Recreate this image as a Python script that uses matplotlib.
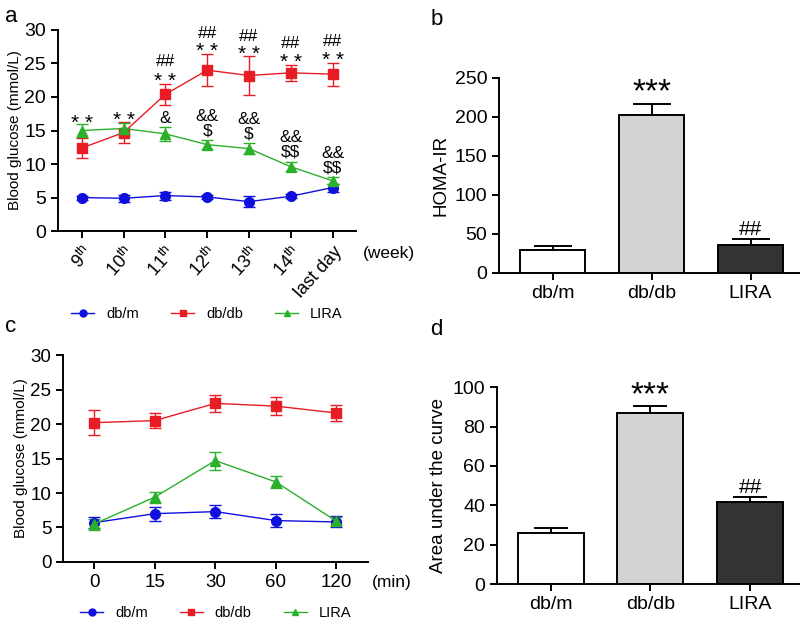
import numpy as np
import matplotlib
matplotlib.use("Agg")
import matplotlib.pyplot as plt
from matplotlib.lines import Line2D

plt.rcParams['font.family'] = ['Liberation Sans', 'DejaVu Sans']
plt.rcParams['mathtext.fontset'] = 'custom'
plt.rcParams['mathtext.rm'] = 'Liberation Sans'

# ---- data: panel a (weekly fasting glucose) ----
weeks = [r'9$^{\mathrm{th}}$', r'10$^{\mathrm{th}}$', r'11$^{\mathrm{th}}$', r'12$^{\mathrm{th}}$',
         r'13$^{\mathrm{th}}$', r'14$^{\mathrm{th}}$', 'last day']
a_dbm = [5.0, 4.9, 5.3, 5.1, 4.4, 5.2, 6.5]
a_dbm_err = [0.3, 0.5, 0.6, 0.3, 0.8, 0.3, 0.6]
a_dbdb = [12.4, 14.7, 20.4, 24.0, 23.2, 23.6, 23.4]
a_dbdb_err = [1.5, 1.5, 1.6, 2.4, 2.9, 1.2, 1.7]
a_lira = [15.0, 15.3, 14.5, 12.9, 12.3, 9.6, 7.5]
a_lira_err = [1.0, 0.8, 1.0, 0.7, 0.8, 0.7, 0.5]
# significance marks vs db/m: (week index, text, y level)
a_marks_db = [
    (0, '**', 16.8), (1, '**', 17.2),
    (2, '##', 25.3), (2, '**', 23.0),
    (3, '##', 29.5), (3, '**', 27.5),
    (4, '##', 29.0), (4, '**', 27.0),
    (5, '##', 28.0), (5, '**', 25.8),
    (6, '##', 28.3), (6, '**', 26.1),
]
# significance marks for LIRA: (week index, text, centre y)
a_marks_lira = [
    (2, '&', 16.8),
    (3, '&&\n\\$', 15.95),
    (4, '&&\n\\$', 15.55),
    (5, '&&\n\\$\\$', 12.85),
    (6, '&&\n\\$\\$', 10.45),
]

# ---- data: panel b (HOMA-IR) ----
groups = ['db/m', 'db/db', 'LIRA']
homa = [29, 202, 36]
homa_err = [6, 15, 8]
homa_marks = ['', '***', '##']

# ---- data: panel c (glucose tolerance) ----
minutes = ['0', '15', '30', '60', '120']
c_dbm = [5.7, 7.0, 7.3, 6.0, 5.8]
c_dbm_err = [0.8, 1.0, 0.9, 0.9, 0.8]
c_dbdb = [20.2, 20.5, 23.0, 22.6, 21.6]
c_dbdb_err = [1.8, 1.1, 1.2, 1.3, 1.1]
c_lira = [5.5, 9.4, 14.7, 11.6, 5.9]
c_lira_err = [0.8, 0.8, 1.3, 0.9, 0.6]

# ---- data: panel d (AUC) ----
auc = [26, 87, 41.5]
auc_err = [2.5, 3.5, 2.5]
auc_marks = ['', '***', '##']

bar_colors = ['white', '#d3d3d3', '#333333']
line_colors = {'db/m': '#1010dd', 'db/db': '#e81c24', 'LIRA': '#2ab02a'}
line_markers = {'db/m': 'o', 'db/db': 's', 'LIRA': '^'}

fig = plt.figure(figsize=(8, 6.23), dpi=100)


def style_axes(ax):
    for s in ['top', 'right']:
        ax.spines[s].set_visible(False)
    for s in ['left', 'bottom']:
        ax.spines[s].set_linewidth(1.4)
    ax.tick_params(width=1.4, length=5, direction='out')


def line_panel(ax, series):
    for name, vals, errs in series:
        x = np.arange(len(vals))
        ax.errorbar(x, vals, yerr=errs, color=line_colors[name], marker=line_markers[name],
                    markersize=7, linewidth=1.0, elinewidth=1.0, capsize=4.5, capthick=1.0)


def add_legend(ax, y):
    handles = [Line2D([0], [0], color=line_colors[g], marker=line_markers[g], markersize=5, lw=1.0)
               for g in groups]
    ax.legend(handles, groups, loc='center', bbox_to_anchor=(0.5, y), ncol=3, frameon=False,
              fontsize=10.5, handlelength=1.6, columnspacing=2.2, handletextpad=0.8)


# panel a
ax_a = fig.add_axes([0.0725, 0.629, 0.372, 0.323])
line_panel(ax_a, [('db/m', a_dbm, a_dbm_err), ('db/db', a_dbdb, a_dbdb_err), ('LIRA', a_lira, a_lira_err)])
style_axes(ax_a)
ax_a.set_ylim(0, 30)
ax_a.set_yticks(range(0, 31, 5))
ax_a.set_xlim(-0.57, 6.55)
ax_a.set_xticks(range(len(weeks)))
ax_a.set_xticklabels(weeks, rotation=48, ha='right', rotation_mode='anchor', fontsize=13)
ax_a.tick_params(axis='y', labelsize=14)
ax_a.set_ylabel('Blood glucose (mmol/L)', fontsize=11, labelpad=2)
for i, t, y in a_marks_db:
    if '*' in t:
        ax_a.text(i, y - 0.7, '* *', ha='center', va='center', fontsize=15)
    else:
        ax_a.text(i, y, t, ha='center', va='center', fontsize=12.5)
for i, t, y in a_marks_lira:
    ax_a.text(i, y, t, ha='center', va='center', fontsize=12.5, linespacing=0.95)
ax_a.text(1.025, -0.11, '(week)', transform=ax_a.transAxes, ha='left', va='center', fontsize=12.5)
add_legend(ax_a, -0.41)

# panel c
ax_c = fig.add_axes([0.079, 0.098, 0.381, 0.332])
line_panel(ax_c, [('db/m', c_dbm, c_dbm_err), ('db/db', c_dbdb, c_dbdb_err), ('LIRA', c_lira, c_lira_err)])
style_axes(ax_c)
ax_c.set_ylim(0, 30)
ax_c.set_yticks(range(0, 31, 5))
ax_c.set_xlim(-0.51, 4.52)
ax_c.set_xticks(range(len(minutes)))
ax_c.set_xticklabels(minutes)
ax_c.tick_params(labelsize=13.5)
ax_c.set_ylabel('Blood glucose (mmol/L)', fontsize=11, labelpad=2)
ax_c.text(1.014, -0.097, '(min)', transform=ax_c.transAxes, ha='left', va='center', fontsize=12.5)
add_legend(ax_c, -0.245)


def bar_panel(ax, vals, errs, marks, top, step, ylabel, star_pad, cap):
    x = np.arange(len(vals))
    ax.bar(x, vals, width=0.66, color=bar_colors, edgecolor='black', linewidth=1.4, zorder=2)
    ax.errorbar(x, vals, yerr=[np.zeros(len(vals)), errs], fmt='none', ecolor='black',
                elinewidth=1.4, capsize=cap, capthick=1.4, zorder=1)
    style_axes(ax)
    ax.set_ylim(0, top)
    ax.set_yticks(np.arange(0, top + 1, step))
    ax.set_xlim(-0.54, 2.5)
    ax.set_xticks(x)
    ax.set_xticklabels(groups)
    ax.tick_params(labelsize=14)
    ax.set_ylabel(ylabel, fontsize=13.5, labelpad=4)
    for i, t in enumerate(marks):
        if t:
            if '*' in t:
                ax.text(i, vals[i] + errs[i] + star_pad, t, ha='center', va='bottom', fontsize=24)
            else:
                ax.text(i, vals[i] + errs[i], t, ha='center', va='bottom', fontsize=15)


ax_b = fig.add_axes([0.624, 0.562, 0.376, 0.313])
bar_panel(ax_b, homa, homa_err, homa_marks, 250, 50, 'HOMA-IR', -6, 14)

ax_d = fig.add_axes([0.621, 0.0626, 0.379, 0.316])
bar_panel(ax_d, auc, auc_err, auc_marks, 100, 20, 'Area under the curve', -3, 12)

fig.text(0.006, 0.99, 'a', fontsize=16, va='top')
fig.text(0.538, 0.985, 'b', fontsize=16, va='top')
fig.text(0.006, 0.492, 'c', fontsize=16, va='top')
fig.text(0.538, 0.488, 'd', fontsize=16, va='top')

fig.savefig('out.png', dpi=100)
